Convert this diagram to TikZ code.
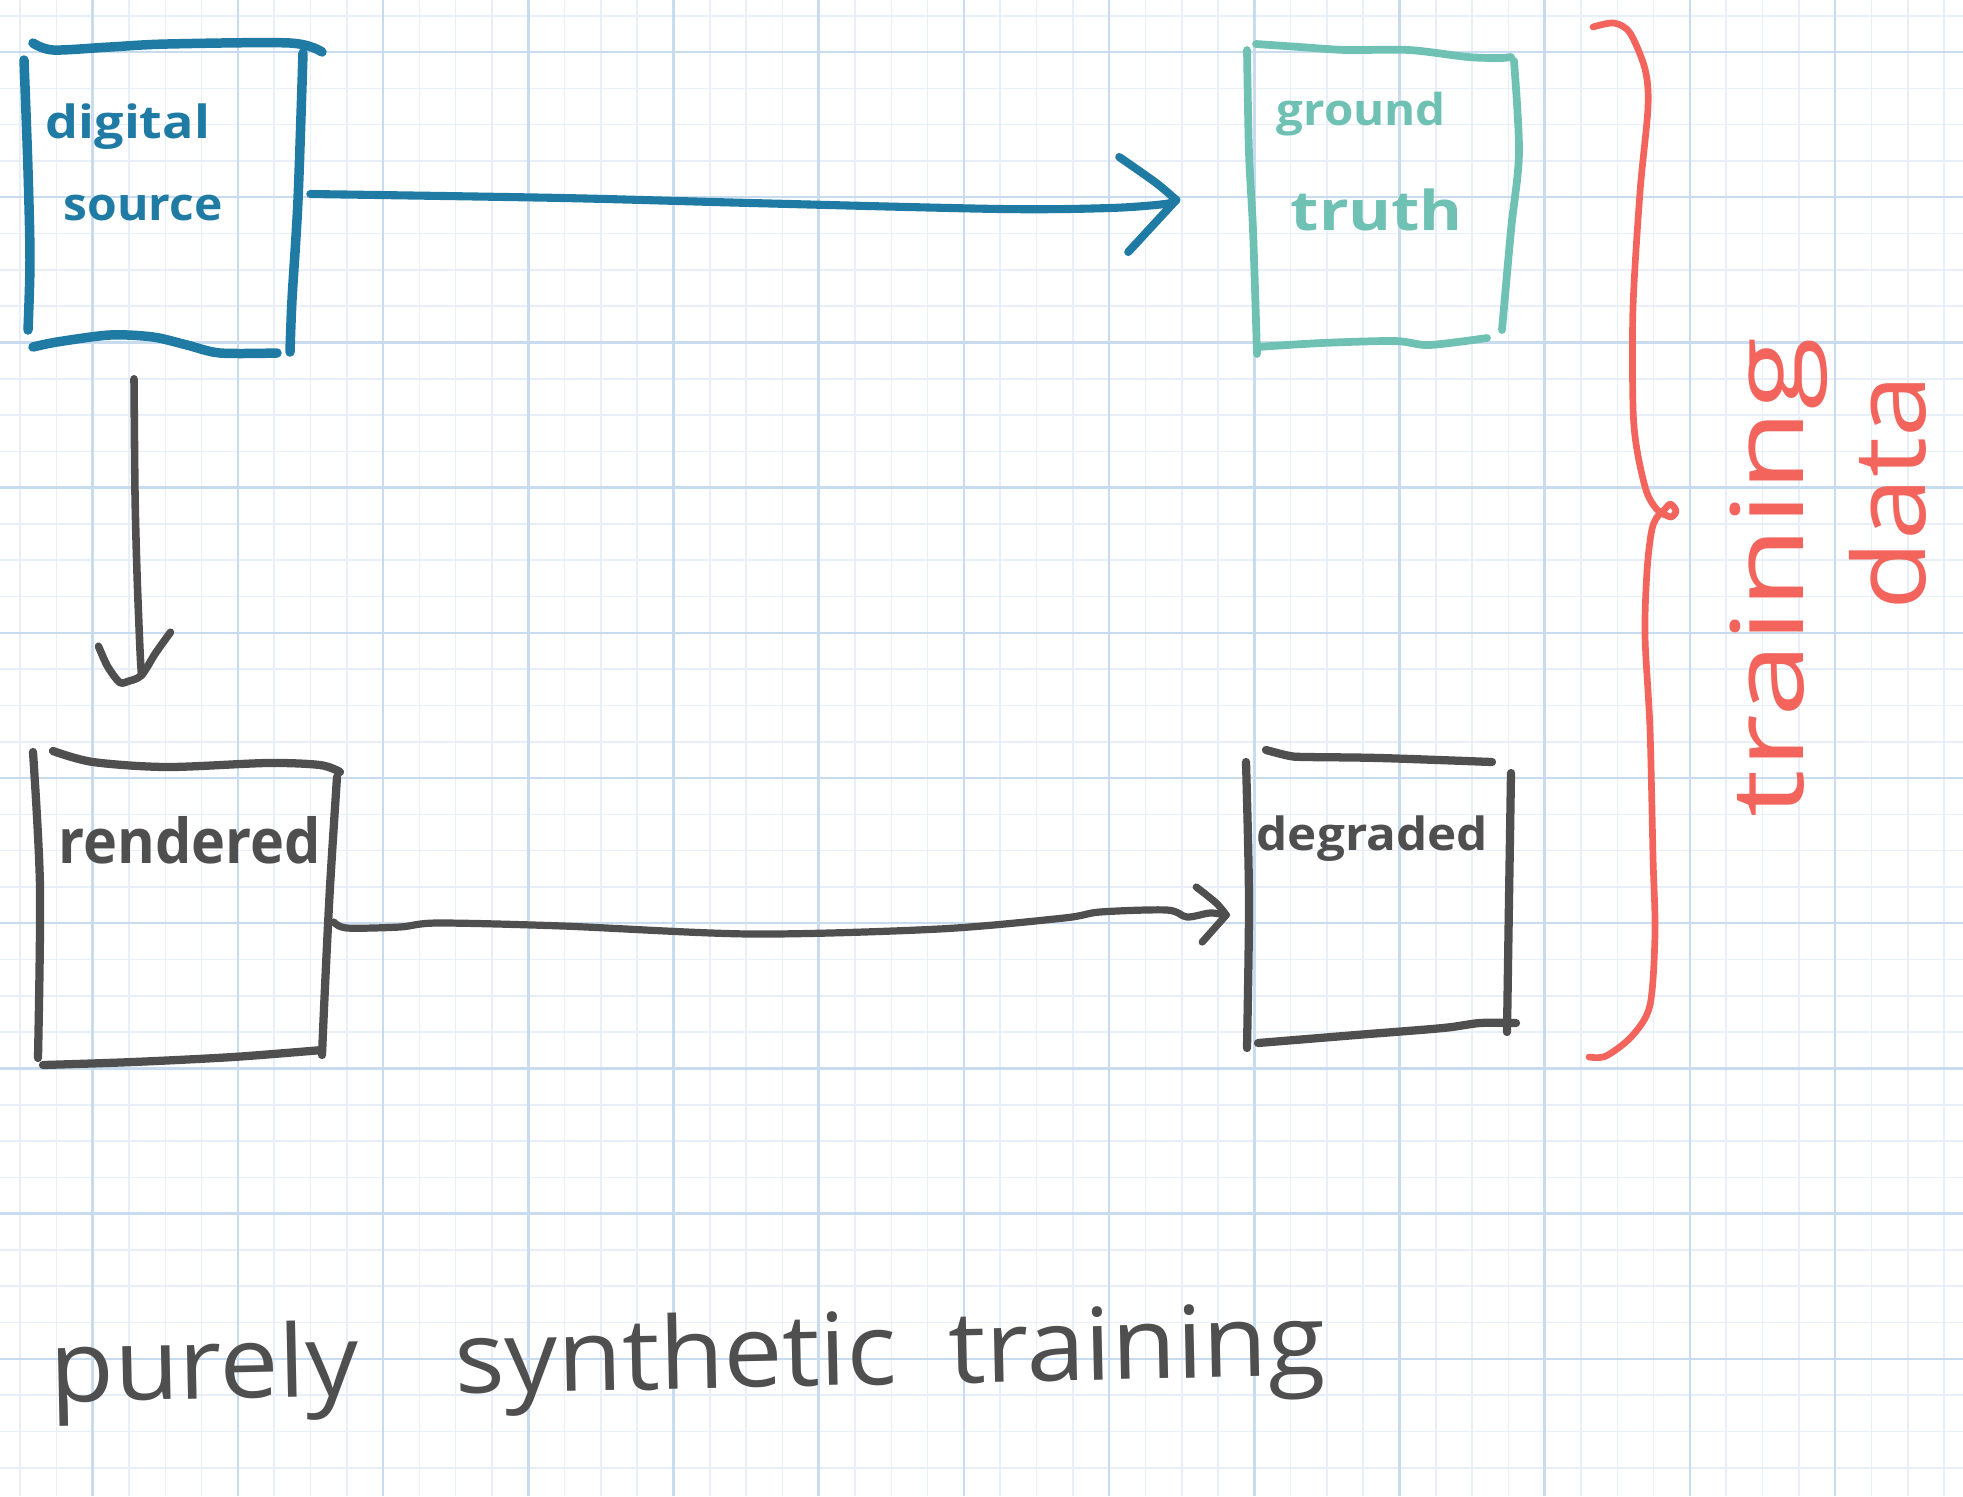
\documentclass[tikz,border=0pt]{standalone}
\usepackage{fontspec}
\setmainfont{Open Sans}
\usepackage{graphicx}
\usetikzlibrary{calc}
\definecolor{dsblue}{HTML}{1F7BA3}
\definecolor{gtteal}{HTML}{6EC1B3}
\definecolor{brred}{HTML}{F2645C}
\definecolor{pgray}{HTML}{4F4F4F}
\definecolor{gridminor}{HTML}{E8EFF9}
\definecolor{gridmajor}{HTML}{C9DBEE}
\tikzset{
  pen/.style={line cap=round, line join=round},
  bluepen/.style={pen, draw=dsblue, line width=2.7pt},
  tealpen/.style={pen, draw=gtteal, line width=2.2pt},
  graypen/.style={pen, draw=pgray, line width=2.35pt},
  redpen/.style={pen, draw=brred, line width=1.9pt},
  gminor/.style={draw=gridminor, line width=0.45pt},
  gmajor/.style={draw=gridmajor, line width=0.7pt},
  boxnode/.style={draw=none, inner sep=0pt},
  lbl/.style={inner sep=0pt, anchor=base west},
}
\begin{document}
\begin{tikzpicture}[x=0.01cm, y=-0.01cm]
\fill[white] (0,0) rectangle (1963,1496);
\useasboundingbox (0,0) rectangle (1963,1496);
% grid
\foreach \j in {0,...,53} \draw[gminor] ({20.1+36.3*\j},0) -- ({20.1+36.3*\j},1496);
\foreach \j in {0,...,40} \draw[gminor] (0,{15.7+36.3*\j}) -- (1963,{15.7+36.3*\j});
\foreach \k in {0,...,13} \draw[gmajor] ({92.7+145.2*\k},0) -- ({92.7+145.2*\k},1496);
\foreach \k in {0,...,10} \draw[gmajor] (0,{52+145.2*\k}) -- (1963,{52+145.2*\k});

% box nodes (invisible frames)
\node[boxnode, minimum width=2.79cm, minimum height=3.10cm] (ds) at (163,198) {};
\node[boxnode, minimum width=2.72cm, minimum height=3.10cm] (gt) at (1383,199) {};
\node[boxnode, minimum width=3.07cm, minimum height=3.14cm] (rd) at (186.5,908) {};
\node[boxnode, minimum width=2.70cm, minimum height=2.98cm] (dg) at (1381,899) {};

% digital source box
\draw[bluepen] plot[smooth] coordinates {(33,43) (53,50) (110,47) (167,44) (290,43) (322,52)};
\draw[bluepen] plot[smooth] coordinates {(24,60) (28,170) (30,260) (28,330)};
\draw[bluepen] plot[smooth] coordinates {(303,53) (298,200) (292,300) (290,352)};
\draw[bluepen] plot[smooth] coordinates {(33,347) (57,342) (110,335) (153,337) (187,345) (220,353) (277,353)};
\node[lbl, text=dsblue, font=\bfseries\fontsize{13}{15}\selectfont] (dsl1) at (45,138) {\scalebox{1.14}[1]{digital}};
\node[lbl, text=dsblue, font=\bfseries\fontsize{13}{15}\selectfont] (dsl2) at (63,220) {\scalebox{1.05}[1]{source}};

% ground truth box
\draw[tealpen] plot[smooth] coordinates {(1256,44) (1300,47) (1346,50) (1409,50) (1468,57) (1500,58) (1511,57)};
\draw[tealpen] plot[smooth] coordinates {(1247,50) (1249,153) (1253,230) (1257,354)};
\draw[tealpen] plot[smooth] coordinates {(1514,61) (1519,153) (1511,230) (1502,330)};
\draw[tealpen] plot[smooth] coordinates {(1257,347) (1322,343) (1395,341) (1429,345) (1487,338)};
\node[lbl, text=gtteal, font=\bfseries\fontsize{12.5}{15}\selectfont] (gtl1) at (1276,125) {\scalebox{1.08}[1]{ground}};
\node[lbl, text=gtteal, font=\bfseries\fontsize{15.6}{18}\selectfont] (gtl2) at (1290,230) {\scalebox{1.19}[1]{truth}};

% rendered box
\draw[graypen] plot[smooth] coordinates {(53,751) (93,762) (167,767) (267,763) (320,765) (340,772)};
\draw[graypen] plot[smooth] coordinates {(33,752) (40,887) (38,1058)};
\draw[graypen] plot[smooth] coordinates {(337,777) (330,887) (325,987) (322,1055)};
\draw[graypen] plot[smooth] coordinates {(43,1065) (133,1062) (233,1057) (322,1050)};
\node[lbl, text=pgray, font=\bfseries\fontsize{17.6}{20}\selectfont] (rdl) at (58,863) {\scalebox{0.93}[1]{rendered}};

% degraded box
\draw[graypen] plot[smooth] coordinates {(1266,750) (1290,756) (1307,757) (1380,758) (1492,762)};
\draw[graypen] plot[smooth] coordinates {(1246,762) (1249,900) (1247,1048)};
\draw[graypen] plot[smooth] coordinates {(1511,773) (1509,900) (1507,1032)};
\draw[graypen] plot[smooth] coordinates {(1258,1043) (1356,1035) (1443,1028) (1480,1023) (1516,1023)};
\node[lbl, text=pgray, font=\bfseries\fontsize{13}{15}\selectfont] (dgl) at (1256,850) {\scalebox{1.08}[1]{degraded}};

% arrow: digital source -> ground truth
\coordinate (a1s) at ($(ds.east)+(7,-4)$);
\coordinate (a1e) at ($(gt.west)+(-70,1)$);
\coordinate (a1u) at ($(a1e)+(-57,-43)$);
\coordinate (a1m) at ($(a1e)+(-20,-17)$);
\coordinate (a1d) at ($(a1e)+(-48,52)$);
\draw[bluepen, line width=2.3pt] plot[smooth] coordinates {(a1s) (563,198) (751,203) (1001,209) (1110,208) (1165,204) (a1e)};
\draw[bluepen, line width=2.3pt] plot[smooth] coordinates {(a1u) (a1m) (a1e)};
\draw[bluepen, line width=2.3pt] (a1e) -- (a1d);

% arrow: digital source -> rendered
\coordinate (a2s) at ($(ds.south)+(-29,25)$);
\coordinate (a2e) at ($(rd.north)+(-45,-75)$);
\coordinate (a2l) at ($(a2e)+(-43,-29)$);
\coordinate (a2l1) at ($(a2e)+(-34,-9)$);
\coordinate (a2l2) at ($(a2e)+(-22,7)$);
\coordinate (a2l3) at ($(a2e)+(-13,6)$);
\coordinate (a2r1) at ($(a2e)+(14,-22)$);
\coordinate (a2r) at ($(a2e)+(29,-43)$);
\draw[graypen, line width=2.15pt] plot[smooth] coordinates {(a2s) (135,493) (137,573) (140,650) (a2e)};
\draw[graypen, line width=2.15pt] plot[smooth] coordinates {(a2l) (a2l1) (a2l2) (a2l3) (a2e) (a2r1) (a2r)};

% arrow: rendered -> degraded
\coordinate (a3s) at ($(rd.east)+(-7,14)$);
\coordinate (a3e) at ($(dg.west)+(-19,16)$);
\coordinate (a3u) at ($(a3e)+(-30,-28)$);
\coordinate (a3m) at ($(a3e)+(-10,-12)$);
\coordinate (a3d) at ($(a3e)+(-24,27)$);
\draw[graypen, line width=2.05pt] plot[smooth] coordinates {(a3s) (347,928) (400,927) (438,923) (563,926) (751,934) (939,929) (1064,918) (1100,912) (1167,910) (1187,917) (1210,913) (a3e)};
\draw[graypen, line width=2.05pt] plot[smooth] coordinates {(a3u) (a3m) (a3e)};
\draw[graypen, line width=2.05pt] (a3e) -- (a3d);

% red brace
\draw[redpen] plot[smooth] coordinates {(1593,27) (1614,23) (1630,33) (1645,69) (1648,107) (1640,192) (1633,307) (1633,407) (1637,450) (1647,493) (1660,512) (1670,504) (1676,511) (1671,517) (1660,514) (1652,529) (1647,571) (1645,636) (1650,729) (1653,857) (1655,933) (1650,1005) (1632,1036) (1606,1056) (1589,1057)};
\node[lbl, text=brred, rotate=90, font=\fontsize{28.5}{32}\selectfont] (trl) at (1803,818) {\scalebox{1.34}[1]{training}};
\node[lbl, text=brred, rotate=90, font=\fontsize{28.5}{32}\selectfont] (dtl) at (1925,611) {\scalebox{1.13}[1]{data}};

% bottom caption
\node[lbl, text=pgray, rotate=1.2, font=\fontsize{28.5}{32}\selectfont] (cap) at (50,1402) {\scalebox{1.05}[1]{purely\hspace{26pt}synthetic\hspace{14pt}training}};
\end{tikzpicture}
\end{document}
